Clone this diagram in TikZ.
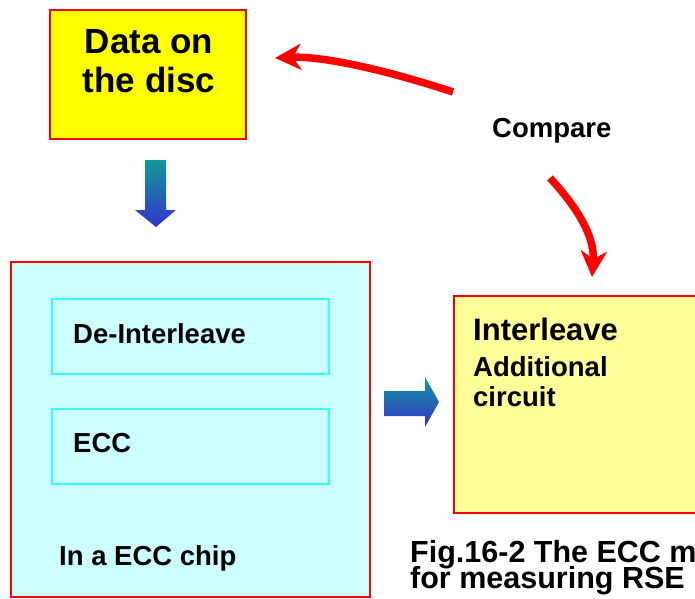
\documentclass[tikz,border=0pt]{standalone}
\usepackage{fontspec}
\setmainfont{Liberation Sans}
\usetikzlibrary{arrows.meta}

\definecolor{discyellow}{RGB}{255,255,0}
\definecolor{circyellow}{RGB}{255,255,153}
\definecolor{chipcyan}{RGB}{204,255,255}
\definecolor{framecyan}{RGB}{51,255,255}
\definecolor{arrteal}{RGB}{17,153,153}
\definecolor{arrblue}{RGB}{51,51,204}

\begin{document}
\begin{tikzpicture}[x=1pt, y=-1pt,
    redbox/.style={draw=red, line width=2pt, inner sep=0pt},
    cyanbox/.style={draw=framecyan, line width=2pt, fill=chipcyan, inner sep=0pt},
    lbl/.style={font=\fontsize{27.5}{32}\selectfont\bfseries, inner sep=0pt, anchor=base west},
    cmparrow/.style={red, line width=7.5pt, -{Stealth[length=26pt, width=26pt, inset=8pt]}}]
    \useasboundingbox (0,0) rectangle (695,598);
    \clip (0,0) rectangle (695,598);

    % Data on the disc
    \node[redbox, fill=discyellow, minimum width=196pt, minimum height=129pt] (disc) at (148,74.5) {};
    \node[lbl, anchor=base, font=\fontsize{35}{39}\selectfont\bfseries] (disc1) at (149,53) {Data on};
    \node[lbl, anchor=base, font=\fontsize{35}{39}\selectfont\bfseries] (disc2) at (149,92) {the disc};

    % block arrows
    \shade[top color=arrteal, bottom color=arrblue]
        (145,160) -- (166,160) -- (166,210) -- (176,210) -- (156,227) -- (135,210) -- (145,210) -- cycle;
    \shade[top color=arrteal, bottom color=arrblue]
        (384,391) -- (425,391) -- (425,377) -- (439,402) -- (425,427) -- (425,416) -- (384,416) -- cycle;

    % ECC chip
    \node[redbox, fill=chipcyan, minimum width=359pt, minimum height=335pt] (chip) at (190.5,429.5) {};
    \node[cyanbox, minimum width=277pt, minimum height=75pt] (deint) at (190.5,336.5) {};
    \node[cyanbox, minimum width=277pt, minimum height=75pt] (ecc) at (190.5,446.5) {};
    \node[lbl] (deinttxt) at (73,343) {De-Interleave};
    \node[lbl] (ecctxt) at (73,452.5) {ECC};
    \node[lbl] (chiptxt) at (59,565.5) {In a ECC chip};

    % additional circuit
    \node[redbox, fill=circyellow, minimum width=320pt, minimum height=217pt, anchor=north west] (circ) at (453,295) {};
    \node[lbl, font=\fontsize{31}{36}\selectfont\bfseries] (ilvtxt) at (473,340) {Interleave};
    \node[lbl] (addtxt) at (473,376) {Additional};
    \node[lbl] (cirtxt) at (473,406) {circuit};

    % caption
    \node[lbl, font=\fontsize{30.5}{34}\selectfont\bfseries] (cap1) at (410,562) {Fig.16-2 The ECC m};
    \node[lbl, font=\fontsize{30.5}{34}\selectfont\bfseries] (cap2) at (410,588) {for measuring RSE};

    % compare
    \node[lbl] (cmp) at (492,137) {Compare};
    \coordinate (cmpL) at (453,92);
    \coordinate (discR) at (275,58);
    \coordinate (cmpD) at (550,178);
    \coordinate (circT) at (592,277);
    \draw[cmparrow] (cmpL) .. controls (380,68) and (320,56) .. (discR);
    \draw[cmparrow] (cmpD) .. controls (575,205) and (595,235) .. (circT);
\end{tikzpicture}
\end{document}
